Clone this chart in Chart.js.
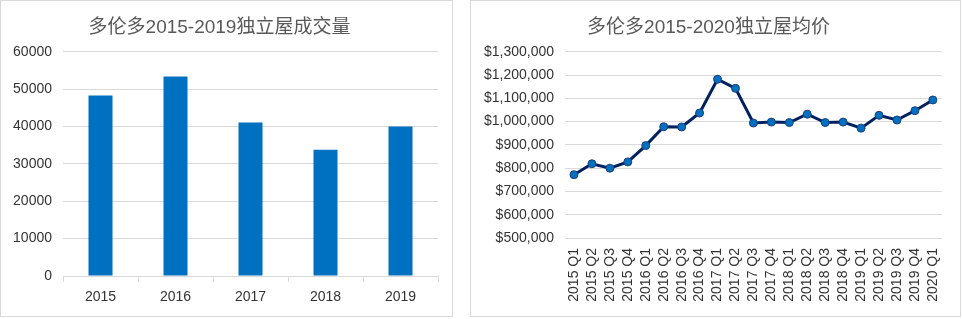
<!DOCTYPE html>
<html>
<head>
<meta charset="utf-8">
<script src="https://cdn.jsdelivr.net/npm/chart.js@4"></script>
<style>
  body { margin: 0; background: #fff; }
  .box { position: absolute; top: 0; border: 1px solid #d9d9d9; background: #fff; }
  #leftBox { left: 0; width: 451px; height: 315px; }
  #rightBox { left: 470px; width: 489px; height: 315px; }
</style>
</head>
<body>
<div class="box" id="leftBox"><canvas id="salesChart" width="451" height="315"></canvas></div>
<div class="box" id="rightBox"><canvas id="priceChart" width="489" height="315"></canvas></div>
<script>
// sales volume per year
const years = ['2015', '2016', '2017', '2018', '2019'];
const sales = [48300, 53400, 41100, 33800, 40000];

// average detached price per quarter
const quarters = ['2015 Q1', '2015 Q2', '2015 Q3', '2015 Q4',
  '2016 Q1', '2016 Q2', '2016 Q3', '2016 Q4',
  '2017 Q1', '2017 Q2', '2017 Q3', '2017 Q4',
  '2018 Q1', '2018 Q2', '2018 Q3', '2018 Q4',
  '2019 Q1', '2019 Q2', '2019 Q3', '2019 Q4', '2020 Q1'];
const prices = [772000, 819000, 800000, 827000,
  897000, 978000, 977000, 1037000,
  1182000, 1143000, 994000, 998000,
  996000, 1032000, 996000, 998000,
  972000, 1027000, 1007000, 1047000, 1093000];

const fontFamily = '"Liberation Sans", "Noto Sans CJK SC", sans-serif';
const gridColor = '#d9d9d9';
const textColor = '#333333';

Chart.defaults.font.family = fontFamily;
Chart.defaults.font.size = 14;
Chart.defaults.color = textColor;
Chart.defaults.animation = false;

function titleOpts(text) {
    return {
        display: true,
        text: text,
        color: '#595959',
        font: { size: 19, weight: 'normal' },
        padding: { top: 15, bottom: 13 }
    };
}

new Chart(document.getElementById('salesChart').getContext('2d'), {
    type: 'bar',
    data: {
        labels: years,
        datasets: [{
            data: sales,
            backgroundColor: '#0070c0',
            barPercentage: 0.32,
            categoryPercentage: 1
        }]
    },
    options: {
        responsive: false,
        layout: { padding: { left: 0, right: 14, bottom: 0 } },
        plugins: {
            legend: { display: false },
            tooltip: { enabled: false },
            title: titleOpts('多伦多2015-2019独立屋成交量')
        },
        scales: {
            x: {
                grid: { drawOnChartArea: false, tickLength: 6, color: gridColor },
                border: { color: gridColor },
                ticks: { padding: 7 },
                afterFit: (s) => { s.height = 40; }
            },
            y: {
                min: 0,
                max: 60000,
                ticks: { stepSize: 10000, padding: 11, callback: (v) => String(v) },
                grid: { drawTicks: false, color: gridColor },
                border: { display: false },
                afterFit: (s) => { s.width = 62; }
            }
        }
    }
});

new Chart(document.getElementById('priceChart').getContext('2d'), {
    type: 'line',
    data: {
        labels: quarters,
        datasets: [{
            data: prices,
            borderColor: '#002060',
            borderWidth: 3,
            pointBackgroundColor: '#0070c0',
            pointBorderColor: '#1f3f7a',
            pointBorderWidth: 1,
            pointRadius: 4,
            tension: 0
        }]
    },
    options: {
        responsive: false,
        layout: { padding: { left: 0, right: 14, bottom: 0 } },
        plugins: {
            legend: { display: false },
            tooltip: { enabled: false },
            title: titleOpts('多伦多2015-2020独立屋均价')
        },
        scales: {
            x: {
                offset: true,
                grid: { display: false, drawTicks: false },
                border: { display: false },
                ticks: { minRotation: 90, maxRotation: 90, padding: 10, autoSkip: false },
                afterFit: (s) => { s.height = 78; }
            },
            y: {
                min: 500000,
                max: 1300000,
                ticks: {
                    stepSize: 100000,
                    padding: 11,
                    callback: (v) => '$' + v.toLocaleString('en-US')
                },
                grid: { drawTicks: false, color: gridColor },
                border: { display: false },
                afterFit: (s) => { s.width = 94; }
            }
        }
    }
});
</script>
</body>
</html>
